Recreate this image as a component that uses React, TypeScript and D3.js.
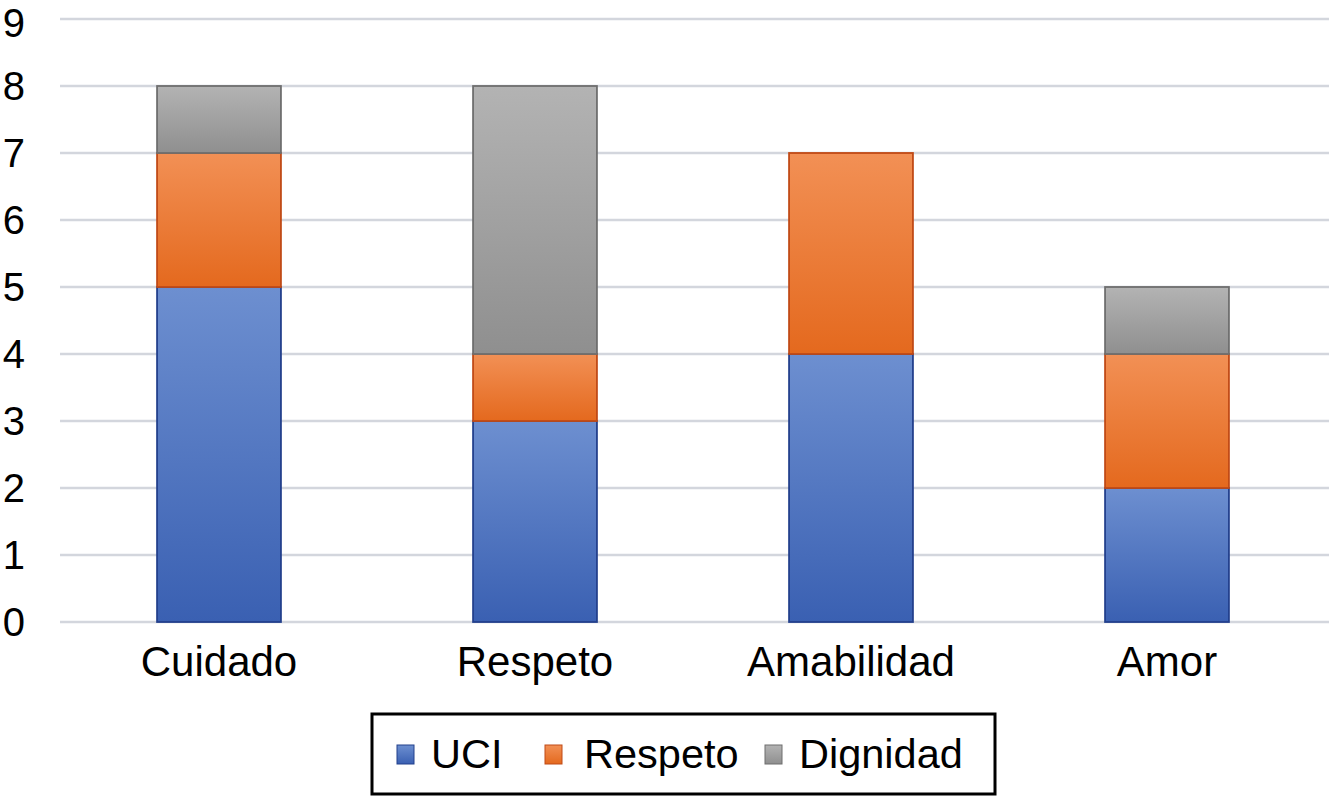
import React from "react";
import * as d3 from "d3";

const categories = ["Cuidado", "Respeto", "Amabilidad", "Amor"];
const seriesNames = ["UCI", "Respeto", "Dignidad"];
const uciValues = [5, 3, 4, 2];
const respetoValues = [2, 1, 3, 2];
const dignidadValues = [1, 4, 0, 1];
const yTicks = [0, 1, 2, 3, 4, 5, 6, 7, 8, 9];

const colors = [
  { top: "#6d8fd0", bottom: "#3a60b2", edge: "#23408c" },
  { top: "#f29055", bottom: "#e4691e", edge: "#c04a16" },
  { top: "#b3b3b3", bottom: "#8f8f8f", edge: "#6e6e6e" },
];

export default function App() {
  const W = 1329;
  const H = 797;
  const font = "'Liberation Sans', Arial, Helvetica, sans-serif";

  const x = d3
    .scaleBand<string>()
    .domain(categories)
    .range([61, 1325])
    .paddingInner(0.608)
    .paddingOuter(0.304);
  const y = d3.scaleLinear().domain([0, 9]).range([622, 19]);

  const rows = categories.map((c, i) => ({
    cat: c,
    UCI: uciValues[i],
    Respeto: respetoValues[i],
    Dignidad: dignidadValues[i],
  }));
  const stacked = d3.stack<any>().keys(seriesNames)(rows);

  const legendItems = [
    { name: "UCI", sq: 397, tx: 431 },
    { name: "Respeto", sq: 545, tx: 584 },
    { name: "Dignidad", sq: 765, tx: 799 },
  ];

  return (
    <div style={{ position: "absolute", left: 0, top: 0 }}>
      <svg width={W} height={H} style={{ display: "block", background: "#fff" }}>
        <defs>
          {colors.map((c, i) => (
            <linearGradient key={i} id={`g${i}`} x1="0" y1="0" x2="0" y2="1">
              <stop offset="0" stopColor={c.top} />
              <stop offset="1" stopColor={c.bottom} />
            </linearGradient>
          ))}
        </defs>
        {yTicks.map((t) => (
          <g key={t}>
            <line x1={60} x2={1329} y1={y(t)} y2={y(t)} stroke="#d3d6dd" strokeWidth={2.5} />
            <text
              x={25}
              y={y(t)}
              dy={t === 9 ? 4 : 0}
              textAnchor="end"
              dominantBaseline="central"
              fontFamily={font}
              fontSize={40}
              fill="#000"
            >
              {t}
            </text>
          </g>
        ))}
        {stacked.map((s, si) => (
          <g key={s.key}>
            {s.map((d, i) =>
              d[1] - d[0] > 0 ? (
                <rect
                  key={i}
                  x={x(categories[i])!}
                  y={y(d[1])}
                  width={x.bandwidth()}
                  height={y(d[0]) - y(d[1])}
                  fill={`url(#g${si})`}
                  stroke={colors[si].edge}
                  strokeWidth={1.8}
                />
              ) : null
            )}
          </g>
        ))}
        {categories.map((c) => (
          <text
            key={c}
            x={x(c)! + x.bandwidth() / 2}
            y={676}
            textAnchor="middle"
            fontFamily={font}
            fontSize={42}
            fill="#000"
          >
            {c}
          </text>
        ))}
        <rect x={372} y={714} width={623} height={80} fill="#fff" stroke="#000" strokeWidth={3} />
        {legendItems.map((l, i) => (
          <g key={l.name}>
            <rect
              x={l.sq}
              y={745}
              width={17}
              height={19}
              fill={`url(#g${i})`}
              stroke={colors[i].edge}
              strokeWidth={1}
            />
            <text x={l.tx} y={768} fontFamily={font} fontSize={41.5} fill="#000">
              {l.name}
            </text>
          </g>
        ))}
      </svg>
    </div>
  );
}
